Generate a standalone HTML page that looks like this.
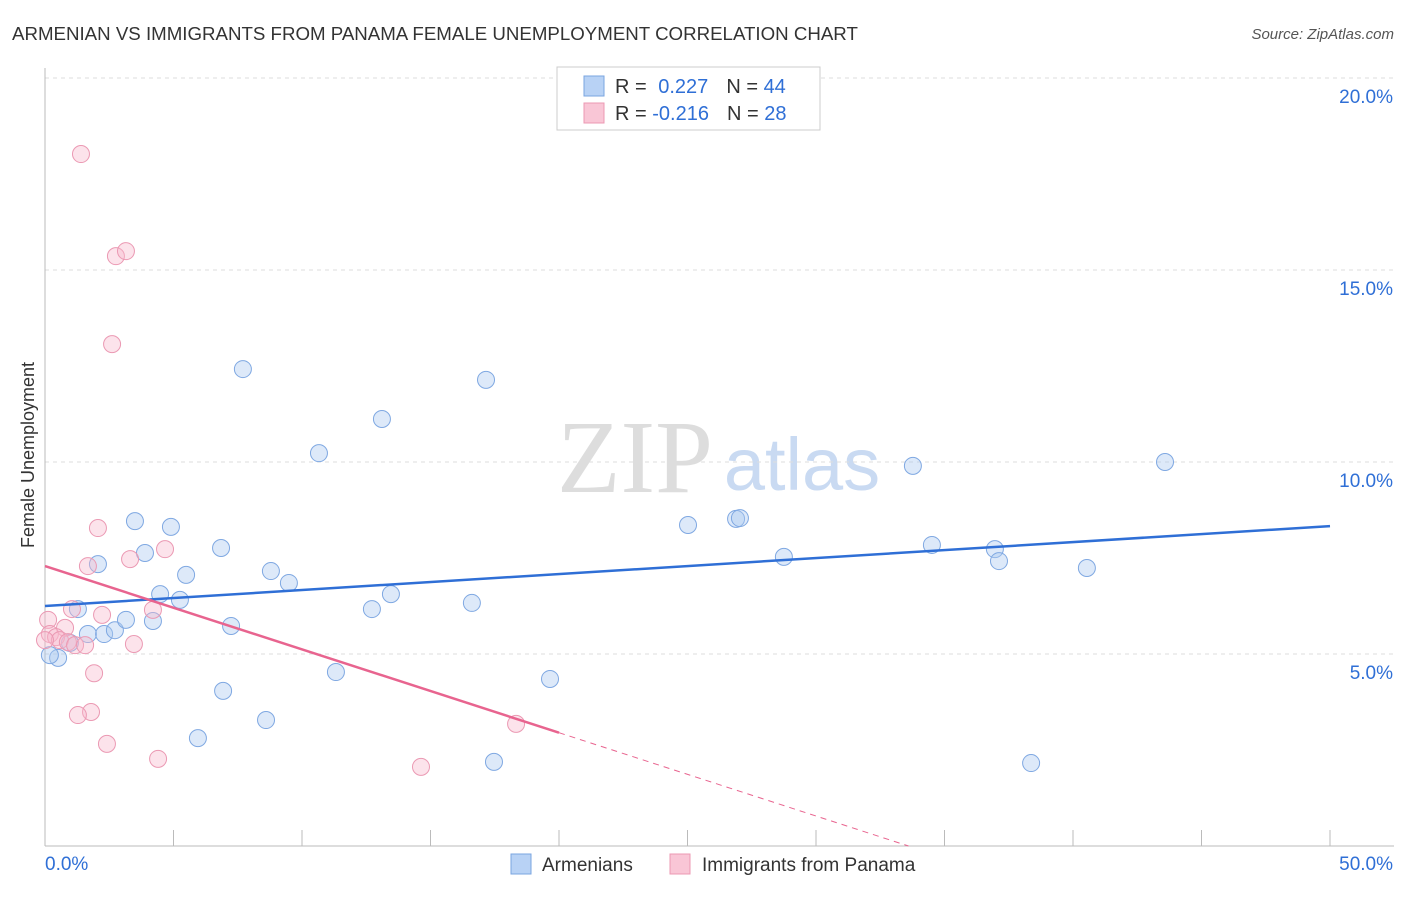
<!DOCTYPE html>
<html><head><meta charset="utf-8"><style>
body{margin:0;background:#fff;font-family:"Liberation Sans",sans-serif;}
</style></head><body>
<svg width="1406" height="892" xmlns="http://www.w3.org/2000/svg" font-family="Liberation Sans, sans-serif">
<text x="12" y="40" font-size="18.7" fill="#333">ARMENIAN VS IMMIGRANTS FROM PANAMA FEMALE UNEMPLOYMENT CORRELATION CHART</text>
<text x="1394" y="39" font-size="15" fill="#555" font-style="italic" text-anchor="end">Source: ZipAtlas.com</text>
<text x="635" y="492" font-size="104" fill="#ddd" font-family="Liberation Serif, serif" text-anchor="middle">ZIP</text>
<text x="802" y="490" font-size="74" fill="#c9daf2" text-anchor="middle">atlas</text>
<g id="grid"></g>
<g id="axes"></g>
<text x="34" y="455" font-size="18" fill="#333" text-anchor="middle" transform="rotate(-90 34 455)">Female Unemployment</text>
<g id="marks"></g>
<g>
<rect x="557" y="67" width="263" height="63" fill="#fff" stroke="#ccc"/>
<rect x="584" y="76" width="20" height="20" fill="#b8d2f5" stroke="#7aa5e0"/>
<rect x="584" y="103" width="20" height="20" fill="#f9c6d6" stroke="#ec98b3"/>
<text x="615" y="93" font-size="20" fill="#333">R = <tspan fill="#2f6fd6" dx="6">0.227</tspan><tspan dx="18" fill="#333">N = </tspan><tspan fill="#2f6fd6">44</tspan></text>
<text x="615" y="120" font-size="20" fill="#333">R = <tspan fill="#2f6fd6">-0.216</tspan><tspan dx="18" fill="#333">N = </tspan><tspan fill="#2f6fd6">28</tspan></text>
</g>
<g>
<rect x="511" y="854" width="20" height="20" fill="#b8d2f5" stroke="#7aa5e0"/>
<text x="542" y="871" font-size="19" fill="#333">Armenians</text>
<rect x="670" y="854" width="20" height="20" fill="#f9c6d6" stroke="#ec98b3"/>
<text x="702" y="871" font-size="19" fill="#333">Immigrants from Panama</text>
</g>
</svg>
<script>
const blueX=[0.51,0.19,0.97,1.28,1.67,2.06,2.30,2.72,3.15,3.50,3.89,4.20,4.48,4.90,5.25,5.49,5.95,6.85,6.93,7.24,7.70,8.60,8.79,9.49,10.66,11.32,12.72,13.11,13.46,16.61,17.16,17.47,19.65,25.02,26.89,27.04,28.75,33.77,34.51,36.96,37.12,38.37,40.54,43.58];
const blueY=[4.90,4.97,5.29,6.17,5.52,7.34,5.52,5.62,5.89,8.46,7.63,5.86,6.56,8.31,6.41,7.06,2.81,7.76,4.04,5.73,12.42,3.28,7.16,6.85,10.23,4.53,6.17,11.12,6.56,6.33,12.14,2.19,4.35,8.36,8.52,8.54,7.53,9.90,7.84,7.73,7.42,2.16,7.24,10.0];
const pinkX=[1.40,2.76,3.15,2.61,2.06,3.31,4.67,1.67,1.05,2.22,4.20,0.12,0.78,0.19,0.43,0.58,0.89,1.17,1.56,3.46,1.91,1.79,1.28,2.41,4.40,14.63,18.33,0.0];
const pinkY=[18.02,15.36,15.49,13.07,8.28,7.47,7.73,7.29,6.17,6.02,6.15,5.89,5.68,5.52,5.44,5.36,5.31,5.23,5.23,5.26,4.50,3.49,3.41,2.66,2.27,2.06,3.18,5.36];
const blueTrend=[6.25,8.33];
const pinkTrend=[7.29,0.0];
const pinkSolidEnd=20;
const yTicks=[5,10,15,20];
const yTickLabels=["5.0%","10.0%","15.0%","20.0%"];
const NS="http://www.w3.org/2000/svg";
const xs=v=>45+v/50*1285;
const ys=v=>846-v/5*192;
function mk(t,a,p){const e=document.createElementNS(NS,t);for(const k in a)e.setAttribute(k,a[k]);p.appendChild(e);return e;}
const grid=document.getElementById('grid'),axes=document.getElementById('axes'),marks=document.getElementById('marks');
yTicks.forEach((v,i)=>{
 const l=mk('line',{x1:45,x2:1394,y1:ys(v),y2:ys(v),stroke:'#ddd','stroke-dasharray':'4 4'},grid);
 
 
 const t=mk('text',{x:1393,y:ys(v)+25,'font-size':19,fill:'#2f6fd6','text-anchor':'end'},axes);
 t.textContent=yTickLabels[i];
 
 
});
const ax=mk('line',{x1:45,x2:45,y1:68,y2:846,stroke:'#bbb'},axes);


const bx=mk('line',{x1:45,x2:1394,y1:846,y2:846,stroke:'#bbb'},axes);


for(let i=0;i<=10;i++){const t=mk('line',{x1:xs(i*5),x2:xs(i*5),y1:830,y2:846,stroke:'#bbb'},axes);
 
 }
const x0=mk('text',{x:45,y:870,'font-size':19,fill:'#2f6fd6'},axes);x0.textContent='0.0%';


const x1=mk('text',{x:1393,y:870,'font-size':19,fill:'#2f6fd6','text-anchor':'end'},axes);x1.textContent='50.0%';


blueX.forEach((v,i)=>{const c=mk('circle',{cx:xs(v),cy:ys(blueY[i]),r:8.5,fill:'rgba(170,200,240,0.4)',stroke:'#7fa8e2','stroke-width':1},marks);
 
 });
pinkX.forEach((v,i)=>{const c=mk('circle',{cx:xs(v),cy:ys(pinkY[i]),r:8.5,fill:'rgba(248,185,205,0.4)',stroke:'#eb99b3','stroke-width':1},marks);
 
 });
const bl=mk('line',{x1:xs(0),y1:ys(blueTrend[0]),x2:xs(50),y2:ys(blueTrend[1]),stroke:'#2f6fd6','stroke-width':2.5},marks);


const pAt=x=>pinkTrend[0]+(pinkTrend[1]-pinkTrend[0])*x/33.6;
const pl=mk('line',{x1:xs(0),y1:ys(pinkTrend[0]),x2:xs(pinkSolidEnd),y2:ys(pAt(pinkSolidEnd)),stroke:'#e8648f','stroke-width':2.5},marks);


const pd=mk('line',{x1:xs(pinkSolidEnd),y1:ys(pAt(pinkSolidEnd)),x2:xs(33.6),y2:ys(pinkTrend[1]),stroke:'#e8648f','stroke-width':1,'stroke-dasharray':'6 5'},marks);


</script>
</body></html>
